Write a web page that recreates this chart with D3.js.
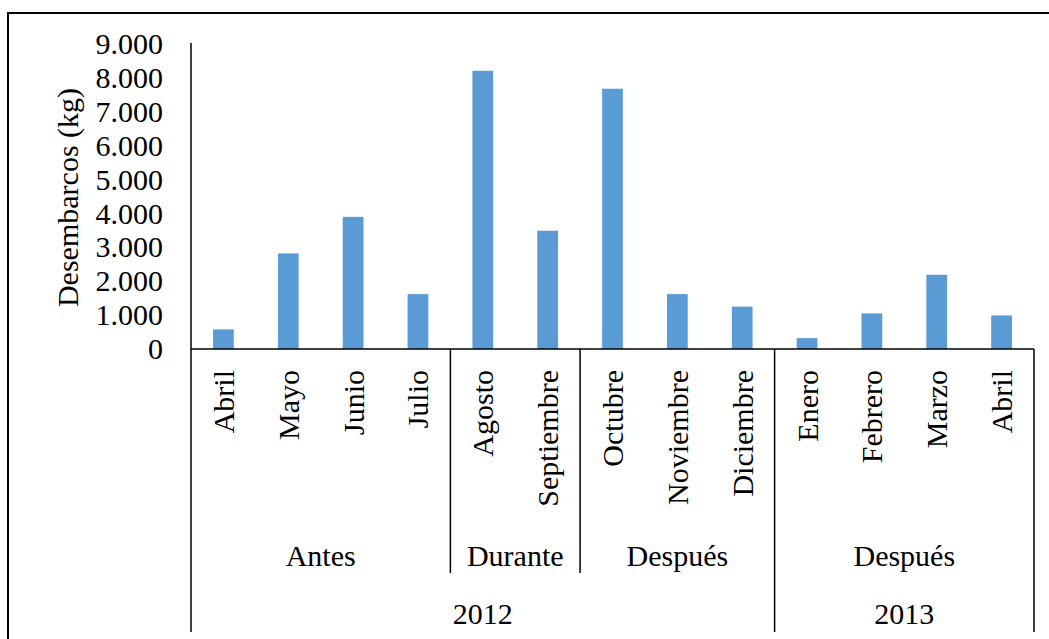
<!DOCTYPE html>
<html>
<head>
<meta charset="utf-8">
<script src="https://cdn.jsdelivr.net/npm/d3@7"></script>
<style>
  html, body { margin: 0; padding: 0; background: #ffffff; }
  svg { display: block; }
</style>
</head>
<body>
<svg id="chart" width="1049" height="639"></svg>
<script>
// ---- Data ----
const months = ["Abril", "Mayo", "Junio", "Julio", "Agosto", "Septiembre", "Octubre",
                "Noviembre", "Diciembre", "Enero", "Febrero", "Marzo", "Abril"];
const values = [580, 2820, 3900, 1620, 8210, 3490, 7680, 1620, 1250, 320, 1050, 2190, 990];
const periods = ["Antes", "Durante", "Después", "Después"];
const periodSizes = [4, 2, 3, 4];
const years = ["2012", "2013"];
const yearSizes = [9, 4];
const yTicks = [0, 1000, 2000, 3000, 4000, 5000, 6000, 7000, 8000, 9000];
const yTitle = "Desembarcos (kg)";

// ---- Layout ----
const FONT = "Liberation Serif, Times New Roman, serif";
const svg = d3.select("#chart");
const plotLeft = 191, plotRight = 1034, plotTop = 44, base = 349;
const fs = 30;
const ids = months.map((m, i) => i);

const x = d3.scaleBand().domain(ids).range([plotLeft, plotRight]).paddingInner(0.68).paddingOuter(0.34);
const y = d3.scaleLinear().domain([0, 9000]).range([base, plotTop]);
const loc = d3.formatLocale({ decimal: ",", thousands: ".", grouping: [3], currency: ["", ""] });
const fmt = loc.format(",");

const txt = sel => sel.attr("font-family", FONT).style("font-family", FONT)
  .style("font-size", fs + "px").attr("fill", "#000");

// outer border (right/bottom edges outside the view)
svg.append("rect").attr("x", 8).attr("y", 13).attr("width", 1100).attr("height", 700)
  .attr("fill", "none").attr("stroke", "#000").attr("stroke-width", 2);

// y axis labels
const yAxis = d3.axisLeft(y).tickValues(yTicks).tickFormat(fmt).tickSize(0).tickPadding(28);
const gy = svg.append("g").attr("transform", `translate(${plotLeft},0)`).call(yAxis);
gy.attr("font-family", FONT).attr("font-size", fs);
gy.select(".domain").remove();
gy.selectAll("text").call(txt);

// y title
svg.append("text")
  .attr("transform", `translate(67,${(83 + 312) / 2}) rotate(-90)`)
  .attr("text-anchor", "middle").attr("dominant-baseline", "central")
  .call(txt).text(yTitle);

// bars
svg.selectAll("rect.bar").data(values).enter().append("rect")
  .attr("class", "bar")
  .attr("x", (d, i) => x(i)).attr("width", x.bandwidth())
  .attr("y", d => y(d)).attr("height", d => y(0) - y(d))
  .attr("fill", "#5B9BD5");

// axis lines
const line = (x1, y1, x2, y2) => svg.append("line")
  .attr("x1", x1).attr("y1", y1).attr("x2", x2).attr("y2", y2)
  .attr("stroke", "#000").attr("stroke-width", 1.5);
const step = x.step();
const bx = i => plotLeft + i * step;

line(plotLeft, plotTop - 1, plotLeft, 632);
line(plotLeft, base, plotRight, base);
line(plotRight, base, plotRight, 632);

// month labels
svg.selectAll("text.month").data(months).enter().append("text")
  .attr("class", "month")
  .attr("transform", (d, i) => `translate(${x(i) + x.bandwidth() / 2},370) rotate(-90)`)
  .attr("text-anchor", "end").attr("dominant-baseline", "central")
  .call(txt).text(d => d);

// period groups
let acc = 0;
periods.forEach((p, k) => {
  const start = acc, end = acc + periodSizes[k];
  svg.append("text").attr("x", (bx(start) + bx(end)) / 2).attr("y", 555)
    .attr("text-anchor", "middle").attr("dominant-baseline", "central")
    .call(txt).text(p);
  acc = end;
});

// year groups
acc = 0;
const yearBounds = [];
years.forEach((yr, k) => {
  const start = acc, end = acc + yearSizes[k];
  svg.append("text").attr("x", (bx(start) + bx(end)) / 2).attr("y", 613)
    .attr("text-anchor", "middle").attr("dominant-baseline", "central")
    .call(txt).text(yr);
  yearBounds.push(end);
  acc = end;
});

// period separators
acc = 0;
periodSizes.forEach((s, k) => {
  acc += s;
  if (acc >= months.length) return;
  const full = yearBounds.includes(acc);
  line(bx(acc), base, bx(acc), full ? 632 : 573);
});
</script>
</body>
</html>
